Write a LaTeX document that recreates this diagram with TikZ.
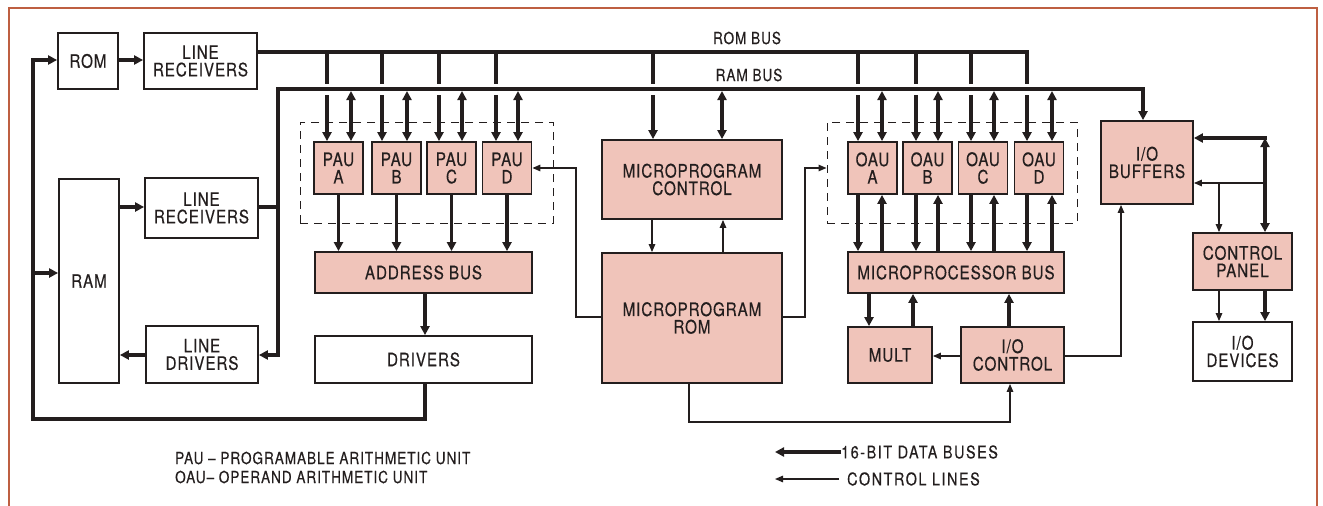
\documentclass[tikz,border=0pt]{standalone}
\usepackage{fontspec}
\setmainfont{TeX Gyre Heros}[FakeStretch=0.82,LetterSpace=5,FakeBold=0.4]
\usetikzlibrary{arrows.meta}
\definecolor{pinkfill}{RGB}{240,196,186}
\definecolor{frameclr}{RGB}{190,95,65}
\definecolor{ink}{RGB}{35,30,30}
\begin{document}
\begin{tikzpicture}[x=1pt,y=-1pt,
 blk/.style={draw=ink,line width=1.8pt,inner sep=0pt,align=center,font=\fontsize{18.5}{17.5}\selectfont,text=ink},
 pk/.style={blk,fill=pinkfill},
 wt/.style={blk,fill=white},
 grp/.style={draw=ink,line width=1pt,dash pattern=on 8pt off 6pt,inner sep=0pt},
 bus/.style={draw=ink,line width=3.2pt},
 thk/.style={bus,-{Triangle[length=9pt,width=9pt]}},
 thkk/.style={bus,{Triangle[length=9pt,width=9pt]}-{Triangle[length=9pt,width=9pt]}},
 thn/.style={draw=ink,line width=1.3pt},
 thna/.style={thn,-{Triangle[length=8pt,width=6.5pt]}},
 lbl/.style={font=\fontsize{16.5}{16.5}\selectfont\addfontfeature{LetterSpace=6},text=ink,inner sep=0pt},
 lblr/.style={font=\fontsize{17.5}{17.5}\selectfont\addfontfeature{LetterSpace=9},text=ink,inner sep=0pt},
]
\useasboundingbox (0,0) rectangle (1323,506);
\draw[frameclr,line width=2.8pt] (9,506) -- (9,8) -- (1317,8) -- (1317,506);

% group boxes
\node[grp,minimum width=253pt,minimum height=101pt] (pauG) at (426.5,172.5) {};
\node[grp,minimum width=250pt,minimum height=101pt] (oauG) at (952,172.5) {};

% blocks
\node[wt,minimum width=60pt,minimum height=56pt] (rom) at (88,61) {ROM};
\node[wt,minimum width=113pt,minimum height=56pt] (lr1) at (200.5,61) {LINE\\RECEIVERS};
\node[wt,minimum width=60pt,minimum height=204pt] (ram) at (89,281) {RAM};
\node[wt,minimum width=113pt,minimum height=60pt] (lr2) at (201.5,208) {LINE\\RECEIVERS};
\node[wt,minimum width=112pt,minimum height=57pt] (ld) at (202,354.5) {LINE\\DRIVERS};

\node[pk,minimum width=49pt,minimum height=52pt] (pauA) at (338.5,168) {PAU\\A};
\node[pk,minimum width=49pt,minimum height=52pt] (pauB) at (396.5,168) {PAU\\B};
\node[pk,minimum width=49pt,minimum height=52pt] (pauC) at (451.5,168) {PAU\\C};
\node[pk,minimum width=49pt,minimum height=52pt] (pauD) at (507,168) {PAU\\D};
\node[pk,minimum width=217pt,minimum height=41pt] (addr) at (423.5,272.5) {ADDRESS BUS};
\node[wt,minimum width=217pt,minimum height=47pt] (drv) at (423.5,359.5) {DRIVERS};

\node[pk,minimum width=180pt,minimum height=79pt] (mpc) at (692,179.5) {MICROPROGRAM\\CONTROL};
\node[pk,minimum width=180pt,minimum height=130pt] (mpr) at (692,318) {MICROPROGRAM\\ROM};

\node[pk,minimum width=49pt,minimum height=52pt] (oauA) at (872.5,168) {OAU\\A};
\node[pk,minimum width=49pt,minimum height=52pt] (oauB) at (927.5,168) {OAU\\B};
\node[pk,minimum width=49pt,minimum height=52pt] (oauC) at (983,168) {OAU\\C};
\node[pk,minimum width=49pt,minimum height=52pt] (oauD) at (1039,168) {OAU\\D};
\node[pk,minimum width=216pt,minimum height=41pt] (mpb) at (956,272.5) {MICROPROCESSOR BUS};
\node[pk,minimum width=84pt,minimum height=56pt] (mult) at (890,355) {MULT};
\node[pk,minimum width=103pt,minimum height=56pt] (ioc) at (1012.5,355) {I/O\\CONTROL};

\node[pk,minimum width=92pt,minimum height=83pt] (iob) at (1147,162.5) {I/O\\BUFFERS};
\node[pk,minimum width=99pt,minimum height=57pt] (cp) at (1242.5,261.5) {CONTROL\\PANEL};
\node[wt,minimum width=99pt,minimum height=59pt] (iod) at (1242.5,351.5) {I/O\\DEVICES};

% bus labels
\node[lbl] (romlbl) at (747,38) {ROM BUS};
\node[lbl] (ramlbl) at (749,75) {RAM BUS};

% ROM bus
\draw[bus] (lr1.east |- 0,52) -- (1027,52) -- (1027,84);
% RAM bus with line drivers and I/O buffers
\draw[thkk] (ld.east |- 0,355) -- (278,355) -- (278,89) -- (1143,89) -- (iob.north -| 1143,0);
\draw[bus] (lr2.east |- 0,207) -- (279.5,207);

% left loop
\draw[thk] (drv.south -| 425,0) -- (425,419) -- (33,419) -- (33,60) -- (rom.west |- 0,60);
\draw[thk] (33,273) -- (ram.west |- 0,273);
\draw[thk] (rom.east |- 0,60) -- (lr1.west |- 0,60);
\draw[thk] (ram.east |- 0,207) -- (lr2.west |- 0,207);
\draw[thk] (ld.west |- 0,355) -- (ram.east |- 0,355);

% drops to PAU / OAU
\foreach \xd/\xu/\n in {327/351/pauA, 382/407/pauB, 439/462/pauC, 496/518/pauD, 858/882/oauA, 916/938/oauB, 971/994/oauC, 1027/1052/oauD} {
  \draw[bus] (\xd,52) -- (\xd,84);
  \draw[thk] (\xd,95) -- (\n.north -| \xd,0);
  \draw[thkk] (\xu,91) -- (\n.north -| \xu,0);
}
% PAU to address bus
\foreach \n in {pauA,pauB,pauC,pauD} {
  \draw[thk] (\n.south) -- (\n.south |- addr.north);
}
\draw[thk] (addr.south -| 425,0) -- (drv.north -| 425,0);
% OAU to microprocessor bus
\foreach \xd/\xu/\n in {858/882/oauA, 916/938/oauB, 971/994/oauC, 1027/1052/oauD} {
  \draw[thk] (\n.south -| \xd,0) -- (mpb.north -| \xd,0);
  \draw[thk] (mpb.north -| \xu,0) -- (\n.south -| \xu,0);
}

% microprogram control
\draw[bus] (653,52) -- (653,84);
\draw[thk] (653,95) -- (mpc.north -| 653,0);
\draw[thkk] (722,91) -- (mpc.north -| 722,0);
\draw[thna] (mpc.south -| 652,0) -- (mpr.north -| 652,0);
\draw[thna] (mpr.north -| 723,0) -- (mpc.south -| 723,0);
\draw[thna] (mpr.west |- 0,317) -- (576,317) -- (576,168) -- (pauD.east |- 0,168);
\draw[thna] (mpr.east |- 0,317) -- (805,317) -- (805,168) -- (oauG.west |- 0,168);
\draw[thna] (mpr.south -| 689,0) -- (689,422) -- (1010,422) -- (ioc.south -| 1010,0);

% mult and I/O control
\draw[thk] (mpb.south -| 869,0) -- (mult.north -| 869,0);
\draw[thk] (mult.north -| 913,0) -- (mpb.south -| 913,0);
\draw[thk] (ioc.north -| 1009,0) -- (mpb.south -| 1009,0);
\draw[thna] (ioc.west |- 0,356) -- (mult.east |- 0,356);
\draw[thna] (ioc.east |- 0,356) -- (1121,356) -- (iob.south -| 1121,0);

% I/O buffers, control panel, devices
\draw[thk] (1266.5,138) -- (iob.east |- 0,138);
\draw[thkk] (1265,138) -- (cp.north -| 1265,0);
\draw[thna] (1265,183) -- (iob.east |- 0,183);
\draw[thna] (1219,183) -- (cp.north -| 1219,0);
\draw[thna] (cp.south -| 1219,0) -- (iod.north -| 1219,0);
\draw[thk] (cp.south -| 1265,0) -- (iod.north -| 1265,0);

% legend
\node[lbl,anchor=west] (lg1) at (175,458) {PAU -- PROGRAMABLE ARITHMETIC UNIT};
\node[lbl,anchor=west] (lg2) at (175,477) {OAU-- OPERAND ARITHMETIC UNIT};
\node[lblr,anchor=west] (lg3) at (841,452) {16-BIT DATA BUSES};
\node[lblr,anchor=west] (lg4) at (847,479) {CONTROL LINES};
\coordinate (lg3e) at (775,452);
\coordinate (lg4e) at (775,479);
\draw[thk] (lg3.west) -- (lg3e);
\draw[thna] ([xshift=-8pt]lg4.west) -- (lg4e);
\end{tikzpicture}
\end{document}
